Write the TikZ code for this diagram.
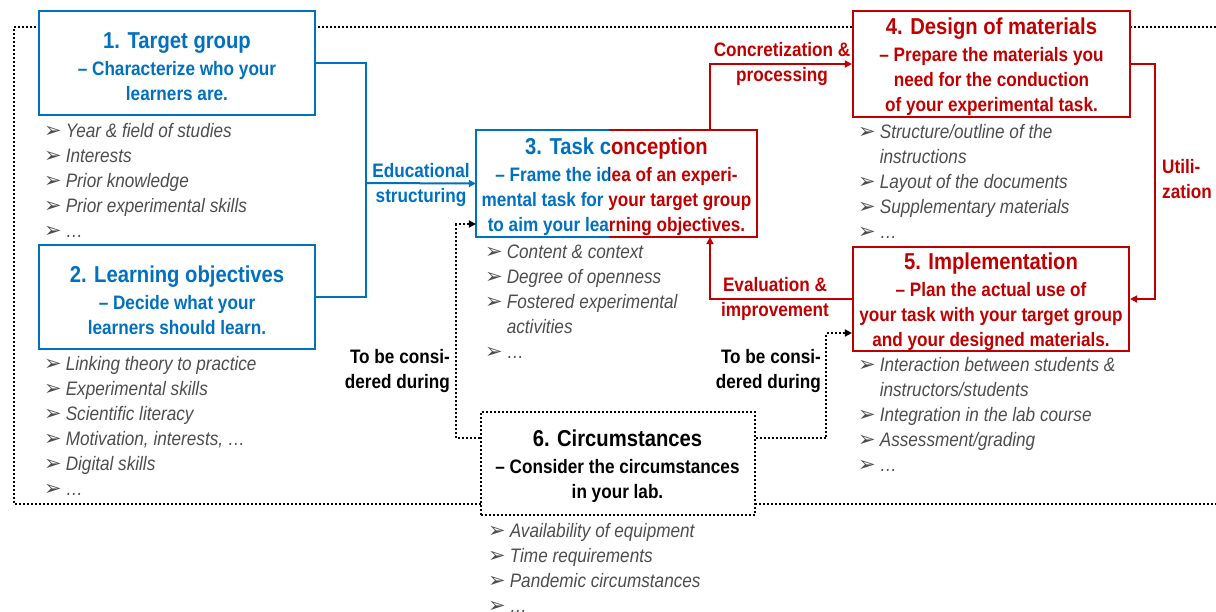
\documentclass[tikz,border=0pt]{standalone}
\usepackage{fontspec}
\setmainfont{Liberation Sans}[FakeStretch=0.88]
\newfontfamily\bulfont{DejaVu Sans}
\usetikzlibrary{arrows.meta}

\definecolor{tblue}{HTML}{0070C0}
\definecolor{tred}{HTML}{C00000}
\definecolor{tgray}{HTML}{4D4D4D}

% title line and bullets
\newcommand{\ttl}[1]{{\fontsize{23}{27}\selectfont\rule{0pt}{22.5pt}#1}}
\newcommand{\bul}{\strut{\bulfont\fontsize{21}{25}\selectfont ➢}\hspace{4pt}}
\newcommand{\bulind}{\hphantom{\bulfont\fontsize{21}{25}\selectfont ➢}\hspace{4pt}}
\newcommand{\tctext}{\ttl{3. Task conception}\\[2pt]– Frame the idea of an experi-\\mental task for your target group\\to aim your learning objectives.}

\begin{document}
\begin{tikzpicture}[x=1pt,y=-1pt]
    \tikzstyle{box}=[draw,line width=2.2pt,fill=white,inner sep=0pt,align=center,font=\bfseries\fontsize{19.5}{25}\selectfont]
    \tikzstyle{bluebox}=[box,draw=tblue,text=tblue]
    \tikzstyle{redbox}=[box,draw=tred,text=tred]
    \tikzstyle{items}=[anchor=north west,inner sep=0pt,align=left,text=tgray,font=\itshape\fontsize{19.5}{25}\selectfont]
    \tikzstyle{lbl}=[inner sep=0pt,align=center,font=\bfseries\fontsize{19.5}{25}\selectfont]
    \tikzstyle{flow}=[line width=2pt,-{Triangle[length=7pt,width=7pt]}]
    \tikzstyle{dots}=[line width=2pt,dash pattern=on 2pt off 2pt]
    \tikzstyle{consider}=[dots,-{Triangle[length=7pt,width=7pt]}]

    \useasboundingbox (0,0) rectangle (1216,611);
    % dotted frame
    \draw[dots] (1216,27) -- (14,27) -- (14,504) -- (1216,504);

    % boxes
    \node (tg) [bluebox,minimum width=276,minimum height=104] at (177,63) {\ttl{1. Target group}\\[2pt]– Characterize who your\\learners are.};
    \node (lo) [bluebox,minimum width=276,minimum height=104] at (177,297) {\ttl{2. Learning objectives}\\[2pt]– Decide what your\\learners should learn.};
    \node (dm) [redbox,minimum width=277,minimum height=106] at (991.5,64) {\ttl{4. Design of materials}\\[2pt]– Prepare the materials you\\need for the conduction\\of your experimental task.};
    \node (im) [redbox,minimum width=276,minimum height=104] at (991,299) {\ttl{5. Implementation}\\[2pt]– Plan the actual use of\\your task with your target group\\and your designed materials.};
    \node (ci) [box,dots,draw=black,text=black,minimum width=274,minimum height=103] at (617.5,463.5) {\ttl{6. Circumstances}\\[2pt]– Consider the circumstances\\in your lab.};

    % task conception, half blue half red
    \coordinate (split) at (609,0);
    \node (tc) [box,draw=none,text=tblue,minimum width=279,minimum height=105] at (616.5,183.5) {\tctext};
    \begin{scope}
        \clip (609,120) rectangle (770,250);
        \node (tcr) [box,draw=none,text=tred,minimum width=279,minimum height=105] at (616.5,183.5) {\tctext};
    \end{scope}
    \draw[tblue,line width=2.2pt] (tc.north -| split) -- (tc.north west) -- (tc.south west) -- (tc.south -| split);
    \draw[tred,line width=2.2pt] (tc.north -| split) -- (tc.north east) -- (tc.south east) -- (tc.south -| split);

    % connectors
    \coordinate (edu) at (366,183);
    \coordinate (cx) at (710,0);
    \draw[tblue,line width=2pt] (tg.east) -| (edu) |- (lo.east);
    \draw[flow,tblue] (edu) -- (tc.west);
    \draw[flow,tred] (tc.north -| cx) |- (dm.west);
    \draw[flow,tred] (dm.east) -- ++(24,0) |- (im.east);
    \draw[flow,tred] (im.west) -| (tc.south -| cx);
    \coordinate (cl) at (456,438);
    \coordinate (cu) at (456,224);
    \coordinate (cr) at (826,438);
    \coordinate (cv) at (826,333);
    \draw[consider] (ci.west |- cl) -- (cl) -- (cu) -- (tc.west |- cu);
    \draw[consider] (ci.east |- cr) -- (cr) -- (cv) -- (im.west |- cv);

    % connector labels
    \node (edul) [lbl,tblue] at (421,185) {Educational\\structuring};
    \node (conl) [lbl,tred] at (782,64) {Concretization \&\\processing};
    \node (utl) [lbl,tred,anchor=west,align=left] at (1162,179) {Utili-\\zation};
    \node (evl) [lbl,tred] at (775,299) {Evaluation \&\\improvement};
    \node (tbl) [lbl,anchor=east,align=right] at (450,371) {To be consi-\\dered during};
    \node (tbr) [lbl,anchor=east,align=right] at (821,371) {To be consi-\\dered during};

    % bullet lists
    \node (tgl) [items] at (44,119.5) {\bul Year \& field of studies\\\bul Interests\\\bul Prior knowledge\\\bul Prior experimental skills\\\bul …};
    \node (lol) [items] at (44,352.5) {\bul Linking theory to practice\\\bul Experimental skills\\\bul Scientific literacy\\\bul Motivation, interests, …\\\bul Digital skills\\\bul …};
    \node (tcl) [items] at (485,240.5) {\bul Content \& context\\\bul Degree of openness\\\bul Fostered experimental\\\bulind activities\\\bul …};
    \node (dml) [items] at (858,120.5) {\bul Structure/outline of the\\\bulind instructions\\\bul Layout of the documents\\\bul Supplementary materials\\\bul …};
    \node (iml) [items] at (858,353.5) {\bul Interaction between students \&\\\bulind instructors/students\\\bul Integration in the lab course\\\bul Assessment/grading\\\bul …};
    \node (cil) [items] at (488,519.5) {\bul Availability of equipment\\\bul Time requirements\\\bul Pandemic circumstances\\\bul …};
\end{tikzpicture}
\end{document}
